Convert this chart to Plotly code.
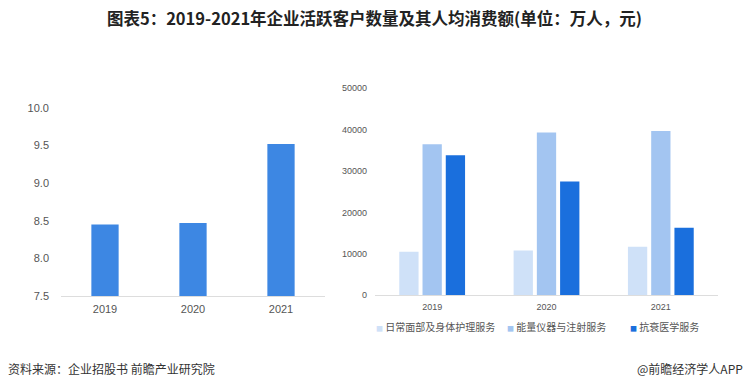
import plotly.graph_objects as go

years = ["2019", "2020", "2021"]
active_customers = [8.45, 8.47, 9.52]  # 万人
series_names = ["日常面部及身体护理服务", "能量仪器与注射服务", "抗衰医学服务"]
daily_care = [10500, 10800, 11700]
energy_inject = [36500, 39300, 39700]
anti_aging = [33800, 27500, 16300]
left_ticks = [7.5, 8.0, 8.5, 9.0, 9.5, 10.0]
right_ticks = [0, 10000, 20000, 30000, 40000, 50000]

W, H = 749, 387
NUM_FONT = "Liberation Sans, Arial, sans-serif"
fig = go.Figure()

fig.add_trace(go.Bar(x=years, y=active_customers, marker_color="#3d87e3",
                     width=0.31, showlegend=False, xaxis="x", yaxis="y"))

colors = ["#cfe1f8", "#a3c5f1", "#1a6fdd"]
for name, vals, c in zip(series_names, [daily_care, energy_inject, anti_aging], colors):
    fig.add_trace(go.Bar(x=years, y=vals, name=name, marker_color=c,
                         showlegend=False, xaxis="x2", yaxis="y2"))

# legend drawn as text entries (small square swatch + label)
legend_x = [374, 505, 628]
annotations = []
for lx, name, c in zip(legend_x, series_names, colors):
    annotations.append(dict(
        text=f"<span style='color:{c};font-size:7px'>■</span> {name}", x=lx / W, y=1 - 326 / H,
        xref="paper", yref="paper", xanchor="left", yanchor="middle",
        showarrow=False, font=dict(size=10, color="#555")))
annotations += [
    dict(text="资料来源：企业招股书 前瞻产业研究院", x=6 / W, y=1 - 368 / H,
         xref="paper", yref="paper", xanchor="left", yanchor="middle",
         showarrow=False, font=dict(size=12, color="#333")),
    dict(text="@前瞻经济学人APP", x=745 / W, y=1 - 368 / H,
         xref="paper", yref="paper", xanchor="right", yanchor="middle",
         showarrow=False, font=dict(size=12, color="#333")),
]

fig.update_layout(
    template="none",
    width=W, height=H,
    margin=dict(l=0, r=0, t=0, b=0, pad=0, autoexpand=False),
    paper_bgcolor="white", plot_bgcolor="white",
    barmode="group", bargap=0.39, bargroupgap=0.17,
    font=dict(family="Noto Sans CJK SC, Noto Sans, sans-serif", color="#666"),
    xaxis=dict(domain=[61 / W, 325 / W], showline=True, linecolor="#dddddd",
               linewidth=1, ticks="", showgrid=False, zeroline=False, automargin=False,
               tickfont=dict(size=11, color="#555", family=NUM_FONT),
               ticklabelstandoff=3, anchor="y"),
    yaxis=dict(domain=[1 - 296 / H, 1 - 108 / H], range=[7.5, 10.0],
               tickvals=left_ticks, ticktext=[f"{v:.1f}" for v in left_ticks],
               showgrid=False, zeroline=False, ticks="", automargin=False,
               tickfont=dict(size=11, color="#555", family=NUM_FONT),
               ticklabelstandoff=11, anchor="x"),
    xaxis2=dict(domain=[375 / W, 718 / W], showline=True, linecolor="#dddddd",
                linewidth=1, ticks="", showgrid=False, zeroline=False, automargin=False,
                tickfont=dict(size=9, color="#555", family=NUM_FONT),
                ticklabelstandoff=3, anchor="y2"),
    yaxis2=dict(domain=[1 - 295.3 / H, 1 - 88.3 / H], range=[0, 50000],
                tickvals=right_ticks, ticktext=[str(v) for v in right_ticks],
                showgrid=False, zeroline=False, ticks="", automargin=False,
                tickfont=dict(size=9, color="#555", family=NUM_FONT),
                ticklabelstandoff=7, anchor="x2"),
    title=dict(text="<b>图表5：2019-2021年企业活跃客户数量及其人均消费额(单位：万人，元)</b>",
               x=0.5, xanchor="center", y=1 - 19 / H, yanchor="middle",
               font=dict(size=16.5, color="#222",
                         family="Noto Sans CJK SC, sans-serif")),
    annotations=annotations,
)

fig.write_html("out.html", config={"displayModeBar": False},
               post_script="document.body.style.margin='0';document.body.style.overflow='hidden';")
